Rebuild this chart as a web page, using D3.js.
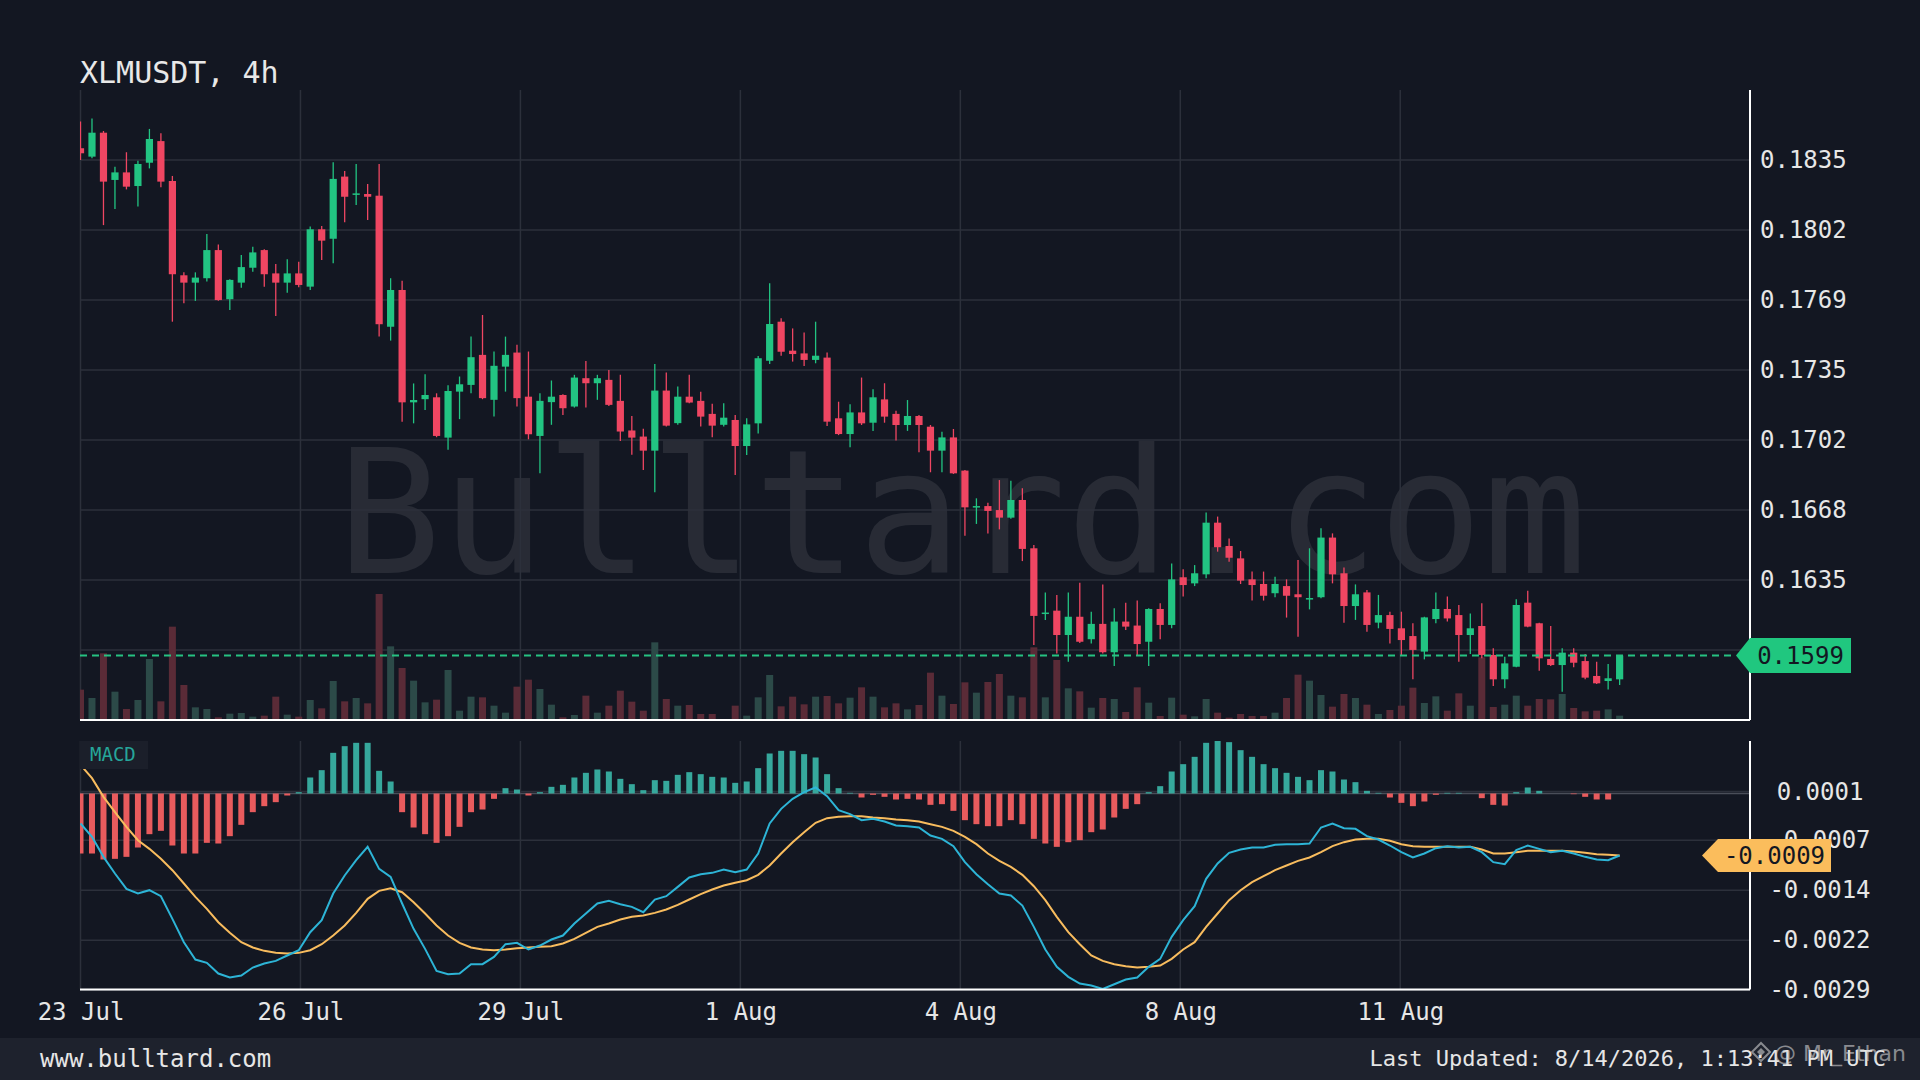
<!DOCTYPE html>
<html><head><meta charset="utf-8">
<script src="https://cdn.jsdelivr.net/npm/d3@7"></script>
<style>
html,body{margin:0;padding:0;background:#131722;}
svg{display:block;}
</style></head>
<body>
<svg id="chart" width="1920" height="1080"></svg>
<script>
// ---------------- DATA ----------------
const opens = [
0.18406,0.18366,0.18480,0.18255,0.18291,0.18226,0.18337,0.18440,0.18250,0.17801,
0.17766,0.17787,0.17921,0.17687,0.17766,0.17837,0.17921,0.17810,0.17766,0.17810,
0.17747,0.18020,0.17975,0.18271,0.18185,0.18188,0.18180,0.17556,0.17731,0.17196,
0.17211,0.17220,0.17028,0.17247,0.17279,0.17422,0.17208,0.17366,0.17433,0.17223,
0.17036,0.17197,0.17231,0.17176,0.17311,0.17287,0.17303,0.17203,0.17062,0.17033,
0.16966,0.17252,0.17097,0.17223,0.17203,0.17141,0.17089,0.17112,0.16988,0.17096,
0.17394,0.17580,0.17442,0.17429,0.17398,0.17409,0.17120,0.17045,0.17148,0.17099,
0.17210,0.17141,0.17088,0.17131,0.17080,0.16966,0.17029,0.16871,0.16696,0.16702,
0.16683,0.16647,0.16731,0.16501,0.16188,0.16204,0.16088,0.16175,0.16068,0.16141,
0.16006,0.16152,0.16133,0.16056,0.16212,0.16136,0.16363,0.16334,0.16377,0.16623,
0.16512,0.16453,0.16353,0.16331,0.16287,0.16321,0.16282,0.16258,0.16268,0.16552,
0.16382,0.16226,0.16291,0.16147,0.16183,0.16120,0.16083,0.16009,0.16164,0.16212,
0.16183,0.16088,0.16131,0.15993,0.15877,0.15937,0.16242,0.16144,0.15974,0.15945,
0.16004,0.15964,0.15893,0.15869,0.15877];
const highs = [
0.18533,0.18548,0.18488,0.18318,0.18387,0.18347,0.18498,0.18477,0.18274,0.17815,
0.17815,0.17998,0.17948,0.17782,0.17898,0.17937,0.17925,0.17855,0.17877,0.17866,
0.18033,0.18036,0.18339,0.18298,0.18331,0.18236,0.18331,0.17787,0.17775,0.17286,
0.17330,0.17239,0.17277,0.17319,0.17509,0.17612,0.17438,0.17509,0.17470,0.17438,
0.17239,0.17300,0.17235,0.17327,0.17393,0.17327,0.17350,0.17327,0.17131,0.17070,
0.17379,0.17338,0.17271,0.17327,0.17247,0.17189,0.17192,0.17136,0.17120,0.17417,
0.17763,0.17596,0.17548,0.17528,0.17580,0.17433,0.17199,0.17187,0.17314,0.17258,
0.17287,0.17156,0.17207,0.17136,0.17088,0.17056,0.17069,0.16874,0.16739,0.16718,
0.16826,0.16823,0.16787,0.16517,0.16290,0.16279,0.16290,0.16337,0.16199,0.16329,
0.16215,0.16242,0.16252,0.16215,0.16239,0.16429,0.16401,0.16421,0.16671,0.16652,
0.16548,0.16488,0.16390,0.16390,0.16366,0.16353,0.16445,0.16501,0.16596,0.16572,
0.16409,0.16329,0.16302,0.16279,0.16199,0.16199,0.16144,0.16175,0.16290,0.16271,
0.16231,0.16191,0.16239,0.16025,0.15985,0.16258,0.16299,0.16147,0.16131,0.16025,
0.16025,0.15998,0.15961,0.15950,0.15993];
const lows = [
0.18350,0.18358,0.18040,0.18117,0.18210,0.18128,0.18310,0.18220,0.17580,0.17668,
0.17679,0.17771,0.17680,0.17636,0.17742,0.17818,0.17747,0.17607,0.17718,0.17744,
0.17731,0.17874,0.17858,0.18053,0.18136,0.18064,0.17509,0.17490,0.17104,0.17096,
0.17160,0.17030,0.16970,0.17116,0.17239,0.17211,0.17128,0.17247,0.17176,0.17020,
0.16858,0.17089,0.17136,0.17171,0.17171,0.17208,0.17179,0.17012,0.16946,0.16874,
0.16768,0.17081,0.17089,0.17192,0.17081,0.17030,0.17081,0.16850,0.16945,0.17048,
0.17379,0.17418,0.17390,0.17369,0.17382,0.17083,0.17040,0.16982,0.17088,0.17060,
0.17099,0.17014,0.17060,0.16958,0.16863,0.16863,0.16855,0.16561,0.16617,0.16572,
0.16591,0.16642,0.16440,0.16040,0.16160,0.16000,0.15961,0.16050,0.16048,0.16000,
0.15941,0.16112,0.15993,0.15941,0.16068,0.16120,0.16271,0.16321,0.16358,0.16485,
0.16437,0.16331,0.16252,0.16252,0.16268,0.16171,0.16080,0.16210,0.16263,0.16334,
0.16147,0.16160,0.16104,0.16120,0.16048,0.15993,0.15877,0.15972,0.16144,0.16152,
0.15961,0.15998,0.15977,0.15845,0.15834,0.15934,0.16125,0.15918,0.15940,0.15818,
0.15934,0.15877,0.15855,0.15829,0.15850];
const closes = [
0.18382,0.18480,0.18247,0.18291,0.18223,0.18331,0.18450,0.18247,0.17806,0.17766,
0.17790,0.17921,0.17683,0.17779,0.17840,0.17910,0.17806,0.17766,0.17810,0.17755,
0.18020,0.17966,0.18260,0.18175,0.18191,0.18175,0.17568,0.17731,0.17196,0.17207,
0.17231,0.17036,0.17250,0.17282,0.17411,0.17216,0.17370,0.17422,0.17216,0.17044,
0.17203,0.17223,0.17168,0.17314,0.17287,0.17311,0.17184,0.17057,0.17028,0.16966,
0.17252,0.17085,0.17223,0.17195,0.17128,0.17085,0.17123,0.16988,0.17091,0.17406,
0.17569,0.17437,0.17426,0.17398,0.17418,0.17104,0.17045,0.17148,0.17096,0.17220,
0.17128,0.17088,0.17131,0.17088,0.16966,0.17029,0.16858,0.16696,0.16702,0.16679,
0.16647,0.16731,0.16498,0.16179,0.16195,0.16088,0.16175,0.16056,0.16141,0.16006,
0.16152,0.16128,0.16045,0.16212,0.16136,0.16353,0.16326,0.16382,0.16623,0.16506,
0.16456,0.16347,0.16326,0.16275,0.16331,0.16275,0.16268,0.16264,0.16552,0.16377,
0.16226,0.16282,0.16136,0.16183,0.16117,0.16064,0.16017,0.16172,0.16212,0.16167,
0.16088,0.16120,0.15993,0.15877,0.15953,0.16231,0.16128,0.15977,0.15945,0.16004,
0.15956,0.15885,0.15858,0.15882,0.15990];
// volume (relative units)
const volumes = [
91,66,200,85,33,60,183,56,280,105,38,33,8,19,21,10,13,70,16,10,
60,35,117,56,66,50,378,221,156,118,53,61,150,28,70,68,43,22,100,121,
93,46,8,15,73,22,43,88,55,28,233,63,43,45,18,18,3,43,13,68,
135,41,70,47,70,72,50,67,
98,70,38,50,32,45,142,73,48,113,82,114,138,73,68,218,68,180,95,86,
37,66,63,24,98,52,12,67,16,11,63,22,7,18,12,12,22,66,136,118,
75,40,78,66,46,18,30,43,97,51,71,28,80,43,188,39,46,73,43,63,
62,78,36,26,28,32,13];
const macdLine = [
-0.00045,-0.00065,-0.00095,-0.00120,-0.00143,-0.00150,-0.00145,-0.00154,-0.00188,-0.00223,
-0.00249,-0.00254,-0.00270,-0.00276,-0.00273,-0.00261,-0.00255,-0.00251,-0.00243,-0.00235,
-0.00208,-0.00190,-0.00150,-0.00123,-0.00100,-0.00080,-0.00113,-0.00125,-0.00165,-0.00203,
-0.00233,-0.00266,-0.00271,-0.00270,-0.00256,-0.00256,-0.00245,-0.00226,-0.00224,-0.00234,
-0.00228,-0.00219,-0.00213,-0.00195,-0.00180,-0.00165,
-0.00161,-0.00166,-0.00170,-0.00178,-0.00159,-0.00154,-0.00140,-0.00126,-0.00121,-0.00119,
-0.00114,-0.00118,-0.00114,-0.00090,-0.00045,-0.00023,-0.00008,0.00002,0.00009,-0.00004,
-0.00025,-0.00031,-0.00040,-0.00038,-0.00042,-0.00048,-0.00049,-0.00051,-0.00063,-0.00068,
-0.00079,-0.00103,-0.00121,-0.00136,-0.00150,-0.00153,-0.00168,-0.00200,-0.00234,-0.00260,
-0.00275,-0.00285,-0.00288,-0.00293,-0.00286,
-0.00279,-0.00276,-0.00260,-0.00248,-0.00215,-0.00190,-0.00169,-0.00128,-0.00105,-0.00089,
-0.00084,-0.00081,-0.00081,-0.00077,-0.00076,-0.00076,-0.00075,-0.00051,-0.00045,-0.00052,
-0.00053,-0.00064,-0.00069,-0.00078,-0.00088,-0.00096,-0.00090,-0.00082,-0.00079,-0.00081,
-0.00080,-0.00088,-0.00103,-0.00106,-0.00085,-0.00078,-0.00083,-0.00088,-0.00086,-0.00090,
-0.00095,-0.00099,-0.00100,-0.00093];
const signalLine = [
0.00043,0.00023,-0.00005,-0.00028,-0.00050,-0.00070,-0.00083,-0.00098,-0.00115,-0.00135,
-0.00155,-0.00173,-0.00193,-0.00209,-0.00223,-0.00231,-0.00236,-0.00239,-0.00240,-0.00239,
-0.00235,-0.00226,-0.00213,-0.00198,-0.00179,-0.00158,-0.00146,-0.00142,-0.00148,-0.00163,
-0.00180,-0.00198,-0.00213,-0.00224,-0.00231,-0.00234,-0.00235,-0.00234,-0.00232,-0.00231,
-0.00230,-0.00229,-0.00225,-0.00218,-0.00209,-0.00200,
-0.00195,-0.00189,-0.00185,-0.00183,-0.00179,-0.00174,-0.00167,-0.00159,-0.00151,-0.00144,
-0.00138,-0.00134,-0.00130,-0.00122,-0.00108,-0.00090,-0.00073,-0.00058,-0.00044,-0.00037,
-0.00035,-0.00034,-0.00034,-0.00036,-0.00037,-0.00039,-0.00040,-0.00042,-0.00046,-0.00050,
-0.00056,-0.00065,-0.00076,-0.00090,-0.00101,-0.00110,-0.00122,-0.00139,-0.00160,-0.00185,
-0.00208,-0.00226,-0.00243,-0.00251,-0.00256,
-0.00259,-0.00261,-0.00260,-0.00258,-0.00248,-0.00234,-0.00223,-0.00200,-0.00180,-0.00160,
-0.00145,-0.00133,-0.00124,-0.00115,-0.00108,-0.00101,-0.00096,-0.00088,-0.00079,-0.00073,
-0.00069,-0.00068,-0.00068,-0.00071,-0.00076,-0.00079,-0.00080,-0.00080,-0.00080,-0.00080,
-0.00080,-0.00084,-0.00090,-0.00090,-0.00088,-0.00086,-0.00086,-0.00086,-0.00086,-0.00087,
-0.00089,-0.00091,-0.00092,-0.00093];
const histogram = [
-0.00090,-0.00090,-0.00099,-0.00098,-0.00095,-0.00081,-0.00061,-0.00056,-0.00078,-0.00090,
-0.00090,-0.00074,-0.00075,-0.00064,-0.00047,-0.00028,-0.00019,-0.00013,-0.00003,0.00002,
0.00024,0.00035,0.00061,0.00071,0.00076,0.00076,0.00034,0.00018,-0.00028,-0.00051,
-0.00061,-0.00074,-0.00064,-0.00050,-0.00028,-0.00024,-0.00008,0.00008,0.00006,-0.00003,
0.00002,0.00010,0.00013,0.00024,0.00031,0.00036,
0.00033,0.00022,0.00014,0.00005,0.00020,0.00019,0.00028,0.00032,0.00029,0.00025,
0.00024,0.00016,0.00018,0.00038,0.00060,0.00064,0.00064,0.00059,0.00054,0.00029,
0.00008,0.00001,-0.00006,-0.00002,-0.00005,-0.00009,-0.00008,-0.00009,-0.00017,-0.00016,
-0.00026,-0.00040,-0.00046,-0.00049,-0.00049,-0.00040,-0.00046,-0.00068,-0.00075,-0.00080,
-0.00073,-0.00070,-0.00058,-0.00054,-0.00036,
-0.00023,-0.00016,0.00002,0.00011,0.00033,0.00044,0.00055,0.00076,0.00080,0.00077,
0.00065,0.00055,0.00044,0.00038,0.00031,0.00025,0.00020,0.00035,0.00033,0.00021,
0.00017,0.00004,0.00001,-0.00006,-0.00014,-0.00019,-0.00012,-0.00002,0.00001,0.00001,
0.00000,-0.00007,-0.00017,-0.00018,0.00002,0.00009,0.00004,0.00000,0.00000,-0.00001,
-0.00005,-0.00009,-0.00009,0.00000];
const priceTickValues = [0.18350,0.18017,0.17683,0.17350,0.17017,0.16683,0.16350,0.16017];
const priceTickLabels = ["0.1835","0.1802","0.1769","0.1735","0.1702","0.1668","0.1635","0.1602"];
const macdTickValues = [0.00003,-0.00070,-0.00145,-0.00220,-0.00295];
const macdTickLabels = ["0.0001","-0.0007","-0.0014","-0.0022","-0.0029"];
const dateTickIndex = [0,19.15,38.3,57.45,76.6,95.75,114.9];
const dateTickLabels = ["23 Jul","26 Jul","29 Jul","1 Aug","4 Aug","8 Aug","11 Aug"];
const titleText = "XLMUSDT, 4h";
const footerLeft = "www.bulltard.com";
const footerRight = "Last Updated: 8/14/2026, 1:13:41 PM UTC";

// ---------------- LAYOUT / STYLE ----------------
const L = 80, R = 1750, PT = 90, PB = 720, MT = 741, MB = 989.5;
const MONO = "'DejaVu Sans Mono', monospace";
const UP = "#22c482", DOWN = "#ef4662";
const VOL_UP = "#2c4a48", VOL_DOWN = "#5a2b37";
const GRID = "#2c303b";

const svg = d3.select("#chart");
svg.append("rect").attr("width",1920).attr("height",1080).attr("fill","#131722");

const N = closes.length;
const idx = d3.range(N);
const x = d3.scaleLinear().domain([0,145.35]).range([80.5,R]);
const yP = d3.scaleLinear().domain([0.1635,0.1835]).range([580,160]);
const yV = d3.scaleLinear().domain([0,d3.max(volumes)]).range([PB,PB-126]);
const yM = d3.scaleLinear().domain([-0.00295,0]).range([990.2,793.5]);

const defs = svg.append("defs");
defs.append("clipPath").attr("id","cp").append("rect").attr("x",L).attr("y",PT).attr("width",R-L).attr("height",PB-PT);
defs.append("clipPath").attr("id","cm").append("rect").attr("x",L).attr("y",MT).attr("width",R-L).attr("height",MB-MT);

// title
svg.append("text").attr("x",80).attr("y",83).attr("fill","#e8e8e8")
  .style("font-family",MONO).style("font-size","30px").text(titleText);

// watermark
svg.append("text").attr("x",962).attr("y",573).attr("text-anchor","middle")
  .attr("fill","#ffffff").attr("opacity",0.085)
  .style("font-family",MONO).style("font-size","173px").text("Bulltard.com");

// grid: price
svg.append("g").selectAll("line").data(priceTickValues).join("line")
  .attr("x1",L).attr("x2",R).attr("y1",d=>yP(d)).attr("y2",d=>yP(d))
  .attr("stroke",GRID).attr("stroke-width",1.5);
// grid: macd
svg.append("g").selectAll("line").data(macdTickValues).join("line")
  .attr("x1",L).attr("x2",R).attr("y1",d=>yM(d)).attr("y2",d=>yM(d))
  .attr("stroke",GRID).attr("stroke-width",1.5);
// vertical grid
const vg = svg.append("g");
vg.selectAll("line.p").data(dateTickIndex).join("line").attr("class","p")
  .attr("x1",d=>x(d)).attr("x2",d=>x(d)).attr("y1",PT).attr("y2",PB)
  .attr("stroke",GRID).attr("stroke-width",1.5);
vg.selectAll("line.m").data(dateTickIndex).join("line").attr("class","m")
  .attr("x1",d=>x(d)).attr("x2",d=>x(d)).attr("y1",MT).attr("y2",MB)
  .attr("stroke",GRID).attr("stroke-width",1.5);

// price panel
const gp = svg.append("g").attr("clip-path","url(#cp)");
gp.selectAll("rect.vol").data(idx).join("rect").attr("class","vol")
  .attr("x",i=>x(i)-3.5).attr("width",7)
  .attr("y",i=>yV(volumes[i])).attr("height",i=>PB-yV(volumes[i]))
  .attr("fill",i=>closes[i]>=opens[i]?VOL_UP:VOL_DOWN);
gp.selectAll("line.wick").data(idx).join("line").attr("class","wick")
  .attr("x1",i=>x(i)).attr("x2",i=>x(i))
  .attr("y1",i=>yP(highs[i])).attr("y2",i=>yP(lows[i]))
  .attr("stroke",i=>closes[i]>=opens[i]?UP:DOWN).attr("stroke-width",1.3);
gp.selectAll("rect.body").data(idx).join("rect").attr("class","body")
  .attr("x",i=>x(i)-3.6).attr("width",7.2)
  .attr("y",i=>yP(Math.max(opens[i],closes[i])))
  .attr("height",i=>Math.max(1.5,Math.abs(yP(opens[i])-yP(closes[i]))))
  .attr("fill",i=>closes[i]>=opens[i]?UP:DOWN);

// last price line
const lastClose = closes[N-1];
const ly = yP(lastClose);
svg.append("line").attr("x1",L).attr("x2",1736).attr("y1",ly).attr("y2",ly)
  .attr("stroke","#26c281").attr("stroke-width",2).attr("stroke-dasharray","7,5");

// macd panel
const gm = svg.append("g").attr("clip-path","url(#cm)");
gm.append("line").attr("x1",L).attr("x2",R).attr("y1",yM(0)).attr("y2",yM(0))
  .attr("stroke","#4a4e59").attr("stroke-width",1.5);
gm.selectAll("rect.h").data(idx).join("rect").attr("class","h")
  .attr("x",i=>x(i)-3).attr("width",6)
  .attr("y",i=>Math.min(yM(histogram[i]),yM(0)))
  .attr("height",i=>Math.abs(yM(histogram[i])-yM(0)))
  .attr("fill",i=>histogram[i]>=0?"#36a89c":"#e85b5d");
const line = d3.line().x((d,i)=>x(i)).y(d=>yM(d)).curve(d3.curveLinear);
gm.append("path").datum(signalLine).attr("d",line).attr("fill","none")
  .attr("stroke","#f8bc5e").attr("stroke-width",2);
gm.append("path").datum(macdLine).attr("d",line).attr("fill","none")
  .attr("stroke","#2db4d6").attr("stroke-width",2);

// MACD label
svg.append("rect").attr("x",L).attr("y",MT).attr("width",68).attr("height",28).attr("fill","#1b1f2a");
svg.append("text").attr("x",90).attr("y",761).attr("fill","#26a69a")
  .style("font-family",MONO).style("font-size","19px").text("MACD");

// axes lines
svg.append("line").attr("x1",R).attr("x2",R).attr("y1",PT).attr("y2",PB).attr("stroke","#ffffff").attr("stroke-width",2);
svg.append("line").attr("x1",R).attr("x2",R).attr("y1",MT).attr("y2",MB).attr("stroke","#ffffff").attr("stroke-width",2);
svg.append("line").attr("x1",L).attr("x2",R).attr("y1",PB).attr("y2",PB).attr("stroke","#ffffff").attr("stroke-width",2);
svg.append("line").attr("x1",L).attr("x2",R).attr("y1",MB).attr("y2",MB).attr("stroke","#ffffff").attr("stroke-width",2);

// price axis labels (a tick hidden by the last-price badge gets no label)
const lastClose0 = closes[N-1];
const shownPriceTicks = priceTickValues.filter(v => Math.abs(yP(v) - yP(lastClose0)) > 18);
const pa = svg.append("g").attr("transform",`translate(${R},0)`)
  .call(d3.axisRight(yP).tickValues(shownPriceTicks).tickSize(0).tickPadding(10)
  .tickFormat(d=>priceTickLabels[priceTickValues.indexOf(d)]));
pa.select(".domain").remove();
pa.selectAll("text").attr("fill","#e6e6e6").style("font-family",MONO).style("font-size","24px");

// macd axis labels
const ma = svg.append("g").attr("transform",`translate(${R},0)`)
  .call(d3.axisRight(yM).tickValues(macdTickValues).tickSize(0).tickPadding(70)
  .tickFormat((d,i)=>macdTickLabels[i]));
ma.select(".domain").remove();
ma.selectAll("text").attr("fill","#e6e6e6").attr("text-anchor","middle")
  .style("font-family",MONO).style("font-size","24px");

// date axis
const da = svg.append("g").attr("transform",`translate(0,${MB})`)
  .call(d3.axisBottom(x).tickValues(dateTickIndex).tickSize(0).tickPadding(13)
  .tickFormat((d,i)=>dateTickLabels[i]));
da.select(".domain").remove();
da.selectAll("text").attr("fill","#e6e6e6").style("font-family",MONO).style("font-size","24px");

// price badge
svg.append("path").attr("d",`M1736,${ly} L1750,${ly-17.5} L1851,${ly-17.5} L1851,${ly+17.5} L1750,${ly+17.5} Z`)
  .attr("fill","#20c77f");
svg.append("text").attr("x",1800.5).attr("y",ly).attr("dy","0.36em").attr("text-anchor","middle")
  .attr("fill","#131722").style("font-family",MONO).style("font-size","24px").text(lastClose.toFixed(4));

// macd badge
const lastM = macdLine[N-1];
const my = yM(lastM);
svg.append("path").attr("d",`M1702,${my} L1718,${my-16.5} L1831,${my-16.5} L1831,${my+16.5} L1718,${my+16.5} Z`)
  .attr("fill","#fbbd5c");
svg.append("text").attr("x",1774.5).attr("y",my).attr("dy","0.36em").attr("text-anchor","middle")
  .attr("fill","#131722").style("font-family",MONO).style("font-size","24px").text(lastM.toFixed(4));

// footer
svg.append("rect").attr("x",0).attr("y",1038).attr("width",1920).attr("height",42).attr("fill","#1e222d");
svg.append("text").attr("x",40).attr("y",1067).attr("fill","#e6e6e6")
  .style("font-family",MONO).style("font-size","24px").text(footerLeft);
svg.append("text").attr("x",1886).attr("y",1066).attr("text-anchor","end").attr("fill","#e6e6e6")
  .style("font-family",MONO).style("font-size","22px").text(footerRight);
// overlay signature
const sig = svg.append("g").attr("opacity",0.6);
sig.append("path").attr("d","M1761,1043 L1770,1052 L1761,1061 L1752,1052 Z").attr("fill","none").attr("stroke","#cfcfcf").attr("stroke-width",2);
sig.append("path").attr("d","M1761,1048 L1765,1052 L1761,1056 L1757,1052 Z").attr("fill","#cfcfcf");
sig.append("text").attr("x",1774).attr("y",1061).attr("fill","#d0d0d0")
  .style("font-family","'DejaVu Sans', sans-serif").style("font-size","22px").text("@ Mr_Ethan");
</script>
</body></html>
